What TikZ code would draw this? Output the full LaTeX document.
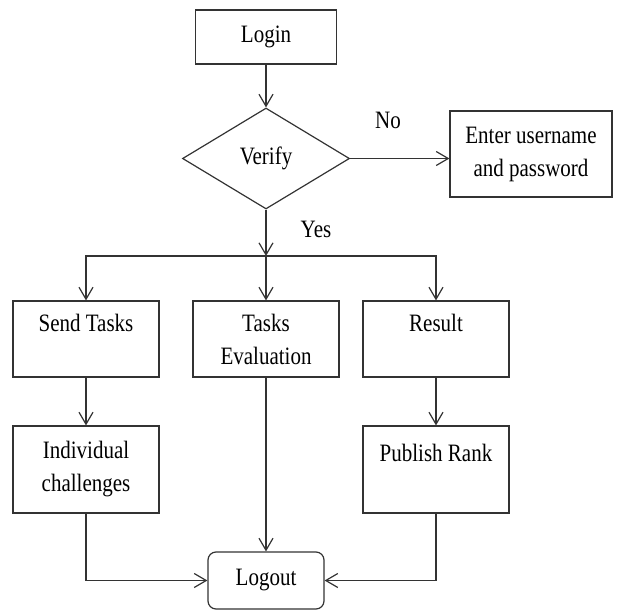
\documentclass[tikz,border=0pt]{standalone}
\usepackage{fontspec}
\setmainfont{Liberation Serif}[FakeStretch=0.84]
\usetikzlibrary{shapes.geometric,arrows.meta}

\begin{document}
\begin{tikzpicture}[x=1pt,y=-1pt,line width=1.2pt,draw=black!80,
    every node/.style={font=\fontsize{25}{33}\selectfont},
    box/.style={draw,rectangle,align=center,inner sep=0pt,minimum width=146pt,minimum height=76pt},
    ar/.style={-{Straight Barb[length=12pt,width=14pt]}}]
            \useasboundingbox (0,0) rectangle (624,610);
            \node[box,minimum width=141pt,minimum height=54pt] (LG) at (266,37) {Login};
            \node[draw,diamond,aspect=1.65,inner sep=0pt,minimum width=167pt,minimum height=101pt] (VF) at (266,158.5) {Verify};
            \node[box,minimum width=162pt,minimum height=86pt] (EN) at (531,154) {Enter username\\and password};
            \node (NO) at (388,120) {No};
            \node (YS) at (316,229) {Yes};
            \coordinate (SP) at (266,256);
            \node[box] (ST) at (86,339) {Send Tasks\\\mbox{}};
            \node[box] (TE) at (266,339) {Tasks\\Evaluation};
            \node[box] (RS) at (436,339) {Result\\\mbox{}};
            \node[box,minimum height=87pt] (IC) at (86,469.5) {Individual\\challenges};
            \node[box,minimum height=87pt] (PR) at (436,469.5) {Publish Rank\\\mbox{}};
            \node[box,rounded corners=8pt,minimum width=116pt,minimum height=57pt] (LO) at (266,580.5) {Logout};
            \path[ar] (LG) edge (VF)  (VF.east) edge (EN.west |- VF.east) (VF) edge (SP) (SP) edge (TE)
                      (ST) edge (IC) (RS) edge (PR) (TE) edge (LO);
            \draw[ar] (SP) -| (ST);
            \draw[ar] (SP) -| (RS);
            \draw[ar] (IC) |- (LO);
            \draw[ar] (PR) |- (LO);
          \end{tikzpicture}
\end{document}
